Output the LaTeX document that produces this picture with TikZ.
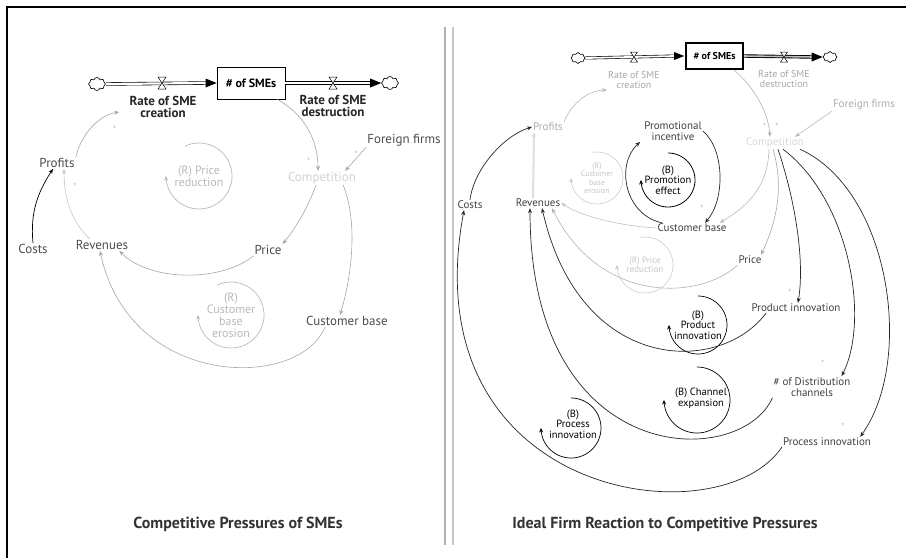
\documentclass[tikz,border=0pt]{standalone}
\usepackage{fontspec}
\setmainfont{PT Sans}
\usetikzlibrary{arrows.meta,shapes.symbols}
\begin{document}
\begin{tikzpicture}[x=1pt,y=-1pt,
  lab/.style={font=\fontsize{13}{14}\selectfont, text=black!70, inner sep=1pt, align=center},
  rlab/.style={font=\fontsize{11}{11.5}\selectfont, text=black!75, inner sep=1pt, align=center},
  ratelab/.style={font=\bfseries\fontsize{13}{12.5}\selectfont, text=black!85, inner sep=1pt, align=center},
  looptxt/.style={font=\fontsize{12}{12}\selectfont, align=center, inner sep=0pt},
  link/.style={-{Stealth[length=5pt,width=4pt]}, line width=0.6pt, draw=gray!70},
  blink/.style={-{Stealth[length=5pt,width=4pt]}, line width=0.7pt, draw=black!85},
  looparr/.style={-{Stealth[length=4.5pt,width=4pt]}, line width=0.7pt},
  pipe/.style={draw=black, line width=0.6pt, double=white, double distance=2.2pt},
  cloudy/.style={cloud, cloud puffs=8, draw, minimum width=17pt, minimum height=13pt, inner sep=0pt, line width=0.6pt, fill=white},
  plus/.style={font=\fontsize{6}{6}\selectfont, text=gray!70, inner sep=0pt},
  caption/.style={font=\bfseries\fontsize{16}{17}\selectfont, text=black!80, inner sep=0pt}
]
\useasboundingbox (0,0) rectangle (906,558);
% frame
\draw[line width=2.5pt] (7,558) -- (7,7) -- (906,7);
\draw[gray!60, line width=1.2pt] (445,27) -- (445,545);
\draw[gray!45, line width=1.2pt] (453,27) -- (453,545);

% ================= LEFT PANEL =================
\node[cloudy] (cL) at (97,84) {};
\node[draw, line width=0.8pt, minimum width=68pt, minimum height=32pt, inner sep=0pt,
      font=\bfseries\fontsize{12}{13}\selectfont] (boxL) at (251,83) {\# of SMEs};
\node[cloudy] (cR) at (390,83) {};
\draw[pipe] (cL.east) -- ([xshift=-9]boxL.west);
\fill (boxL.west) -- ++(-11,-4.5) -- ++(0,9) -- cycle;
\draw[pipe] (boxL.east) -- ([xshift=-9]cR.west);
\fill (cR.west) -- ++(-11,-4.5) -- ++(0,9) -- cycle;
\coordinate (vL1) at (162,83);
\coordinate (vL2) at (333,83);
\foreach \v in {vL1,vL2}{
  \draw[fill=white, line width=0.5pt] ([shift={(-4,-6)}]\v) -- ([shift={(4,-6)}]\v) -- ([shift={(-4,6)}]\v) -- ([shift={(4,6)}]\v) -- cycle;
}
\node[ratelab] (rateCL) at (163,107) {Rate of SME\\creation};
\node[ratelab] (rateDL) at (333,106) {Rate of SME\\destruction};

\node[lab] (foreignL) at (404,140) {Foreign firms};
\node[lab, text=gray!35] (compL) at (322,178) {Competition};
\node[lab] (profitsL) at (57,163) {Profits};
\node[lab] (costsL) at (33,249) {Costs};
\node[lab] (revL) at (102,245) {Revenues};
\node[lab] (priceL) at (268,250) {Price};
\node[lab] (custL) at (347,321) {Customer base};

\node[looptxt, text=gray!55] (prL) at (199,176) {(R) Price\\reduction};
\draw[looparr, gray!55, shift={(prL.center)}] plot[domain=-115:180, samples=80, smooth] ({33*cos(\x)},{33*sin(\x)});
\node[looptxt, text=gray!55] (cbeL) at (231,315) {(R)\\Customer\\base\\erosion};
\draw[looparr, gray!55, shift={(cbeL.center)}] plot[domain=-115:180, samples=80, smooth] ({33*cos(\x)},{33*sin(\x)});

\draw[link] (profitsL.north east) .. controls (82,132) and (100,115) .. ([shift={(-9,5)}]rateCL.west);
\draw[link] ([xshift=-8]boxL.south east) .. controls (300,112) and (318,135) .. ([xshift=-4]compL.north);
\draw[link] (foreignL.south west) -- ([xshift=-12]compL.north east);
\draw[link] ([xshift=-6]compL.south) .. controls (305,215) and (292,232) .. (priceL.north east);
\draw[link] ([xshift=-14]compL.south east) .. controls (358,222) and (352,275) .. ([xshift=-7]custL.north);
\draw[link] (priceL.south west) .. controls (222,282) and (150,282) .. ([xshift=-10]revL.south east);
\draw[link] ([xshift=-22]custL.south) .. controls (300,390) and (130,390) .. ([xshift=-2]revL.south);
\draw[link, draw=gray!45] ([xshift=-12]revL.north) .. controls (72,222) and (64,200) .. ([xshift=7]profitsL.south);
\draw[blink, draw=black] (costsL.north) .. controls (30,212) and (38,192) .. ([xshift=-4]profitsL.south);

\node[plus] (pl1) at (115,128) {+};
\node[plus] (pl2) at (75,185) {+};
\node[plus] (pl3) at (309,160) {+};
\node[plus] (pl4) at (356,153) {+};

\node[caption] (capL) at (238,524) {Competitive Pressures of SMEs};

% ================= RIGHT PANEL =================
\node[cloudy, minimum width=14pt, minimum height=11pt] (cL2) at (578,58) {};
\node[draw, line width=1.6pt, minimum width=57pt, minimum height=26pt, inner sep=0pt,
      font=\bfseries\fontsize{10}{11}\selectfont] (box2) at (714.5,56) {\# of SMEs};
\node[cloudy, minimum width=14pt, minimum height=11pt] (cR2) at (830,57) {};
\draw[pipe, double distance=1.8pt] (cL2.east) -- ([xshift=-9]box2.west);
\fill ([xshift=-1]box2.west) -- ++(-10,-4) -- ++(0,8) -- cycle;
\draw[pipe, double=gray!50, line width=0.9pt, double distance=1.6pt] (box2.east) -- ([xshift=-9]cR2.west);
\fill (cR2.west) -- ++(-11,-4.5) -- ++(0,9) -- cycle;
\coordinate (vR1) at (634,57);
\coordinate (vR2) at (784,57);
\foreach \v in {vR1,vR2}{
  \draw[fill=white, line width=0.5pt] ([shift={(-3.5,-5)}]\v) -- ([shift={(3.5,-5)}]\v) -- ([shift={(-3.5,5)}]\v) -- ([shift={(3.5,5)}]\v) -- cycle;
}
\node[rlab, text=gray!70, font=\fontsize{10}{10.5}\selectfont] (rateC2) at (634,80) {Rate of SME\\creation};
\node[rlab, text=gray!70, font=\fontsize{10}{10.5}\selectfont] (rateD2) at (784,79) {Rate of SME\\destruction};

\node[rlab, text=gray!65] (foreign2) at (864,105) {Foreign firms};
\node[rlab, text=gray!30] (comp2) at (775,143) {Competition};
\node[rlab, text=gray!65] (profits2) at (548,127) {Profits};
\node[rlab] (promo2) at (673,131) {Promotional\\incentive};
\node[rlab] (costs2) at (470,205) {Costs};
\node[rlab] (rev2) at (538,203) {Revenues};
\node[rlab] (cust2) at (692,228) {Customer base};
\node[rlab] (price2) at (750,260) {Price};
\node[rlab] (prod2) at (796,308) {Product innovation};
\node[rlab] (dist2) at (812,387) {\# of Distribution\\channels};
\node[rlab] (proc2) at (827,442) {Process innovation};

% loops right
\node[looptxt, text=gray!45, font=\fontsize{8}{8.5}\selectfont] (cbe2) at (597,178) {(R)\\Customer\\base\\erosion};
\draw[looparr, gray!40, line width=0.6pt, shift={(cbe2.center)}] plot[domain=-100:180, samples=70, smooth] ({26*cos(\x)},{26*sin(\x)});
\node[looptxt, font=\fontsize{10.5}{10.5}\selectfont] (pe2) at (668,180) {(B)\\Promotion\\effect};
\draw[looparr, black, line width=0.8pt, shift={(pe2.center)}] plot[domain=-90:180, samples=70, smooth] ({27*cos(\x)},{27*sin(\x)});
\node[looptxt, text=gray!45, font=\fontsize{9}{9.5}\selectfont] (pr2) at (645,265) {(R) Price\\reduction};
\draw[looparr, gray!40, line width=0.6pt, shift={(pr2.center)}] plot[domain=-100:180, samples=70, smooth] ({28*cos(\x)},{28*sin(\x)});
\node[looptxt, font=\fontsize{10.5}{10.5}\selectfont] (pil2) at (698,325) {(B)\\Product\\innovation};
\draw[looparr, black, shift={(pil2.center)}] plot[domain=-90:180, samples=70, smooth] ({29*cos(\x)},{29*sin(\x)});
\node[looptxt, font=\fontsize{10.5}{11}\selectfont] (ce2) at (701,398) {(B) Channel\\expansion};
\coordinate (ceC) at (697,400);
\draw[looparr, black, shift={(ceC)}] plot[domain=-90:180, samples=70, smooth] ({33*cos(\x)},{33*sin(\x)});
\node[looptxt, font=\fontsize{10.5}{10.5}\selectfont] (pcl2) at (573,424) {(B)\\Process\\innovation};
\coordinate (pcC) at (571,428);
\draw[looparr, black, shift={(pcC)}] plot[domain=-90:180, samples=70, smooth] ({30*cos(\x)},{30*sin(\x)});

% links right
\draw[link, draw=gray!55] (profits2.north east) .. controls (572,102) and (590,90) .. (rateC2.south west);
\draw[blink] (costs2.north) .. controls (474,168) and (505,135) .. (profits2.west);
\draw[gray!25, line width=2pt, -{Stealth[length=5pt,width=5pt]}] ([xshift=-5]rev2.north) -- ([xshift=-14]profits2.south);
\draw[link, draw=gray!60] ([xshift=-10]box2.south east) .. controls (752,85) and (768,110) .. ([xshift=-5]comp2.north);
\draw[link, draw=gray!55] (foreign2.south west) -- ([xshift=-10]comp2.north east);
\draw[link, draw=gray!55] ([xshift=-6]comp2.south) .. controls (768,185) and (750,205) .. ([xshift=-8]cust2.north east);
\draw[link, draw=gray!70] ([xshift=-2]comp2.south) .. controls (785,190) and (775,225) .. ([xshift=11]price2.north);
\draw[blink] ([xshift=3]comp2.south) .. controls (795,200) and (805,260) .. ([xshift=2]prod2.north);
\draw[blink] ([xshift=8]comp2.south) .. controls (850,200) and (870,320) .. ([xshift=-10]dist2.north east);
\draw[blink] ([xshift=-5]comp2.south east) .. controls (890,190) and (915,360) .. ([xshift=-12]proc2.north east);
\draw[blink] ([xshift=-30]cust2.north) .. controls (625,215) and (615,165) .. ([xshift=-3]promo2.south west);
\draw[blink] (promo2.east) .. controls (725,150) and (725,200) .. ([xshift=13]cust2.north);
\draw[link, draw=gray!50] (cust2.west) .. controls (620,226) and (580,216) .. (rev2.east);
\draw[link, draw=gray!60] (price2.south west) .. controls (700,300) and (600,305) .. ([xshift=14]rev2.south);
\draw[blink] ([xshift=-30]prod2.south) .. controls (720,375) and (580,375) .. ([xshift=4]rev2.south);
\draw[blink] (dist2.south west) .. controls (740,470) and (530,470) .. ([xshift=-8]rev2.south);
\draw[blink] (proc2.south west) .. controls (720,540) and (410,500) .. ([xshift=-6]costs2.south);

\node[plus] (pr1) at (765,125) {+};
\node[plus] (pr2p) at (777,125) {+};
\node[plus] (pr3) at (702,207) {+};
\node[plus] (pr4) at (790,291) {+};
\node[plus] (pr5) at (823,362) {+};
\node[plus] (pr6) at (843,425) {+};

\node[caption] (capR) at (665,524) {Ideal Firm Reaction to Competitive Pressures};
\end{tikzpicture}
\end{document}
